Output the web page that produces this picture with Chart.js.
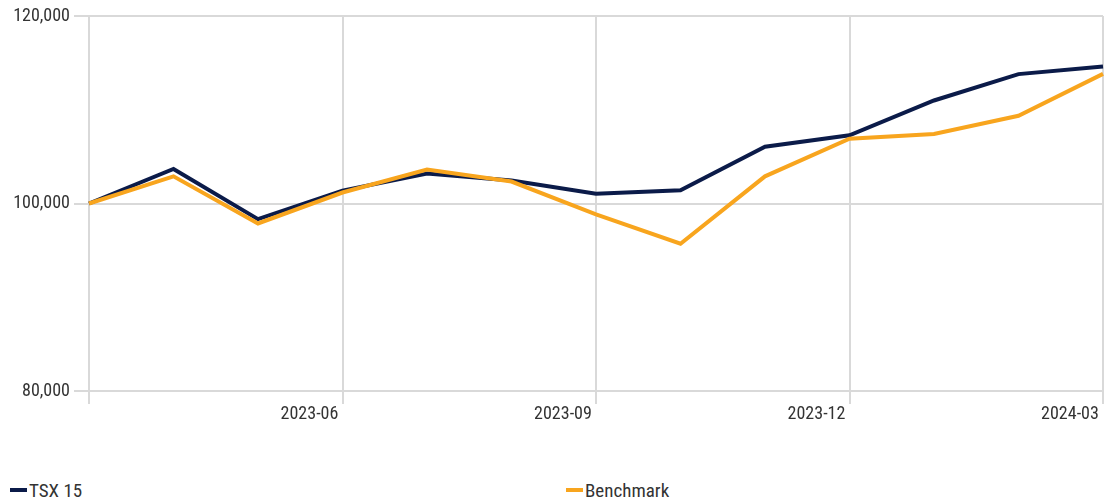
<!DOCTYPE html>
<html>
<head>
<meta charset="utf-8">
<script src="https://cdn.jsdelivr.net/npm/chart.js@4/dist/chart.umd.min.js"></script>
<style>
  html, body { margin: 0; padding: 0; background: #fff; }
  #wrap { position: relative; width: 1105px; height: 503px; }
  #box { position: absolute; left: 0; top: 0; width: 1105px; height: 440px; }
  #legend { position: absolute; left: 0; top: 478px; width: 1105px; height: 24px;
    font-family: 'Roboto Condensed', 'Liberation Sans Narrow', 'Arial Narrow', 'Roboto', sans-serif; font-size: 19px; color: #333; }
  .item { position: absolute; top: 0; display: flex; align-items: center; height: 24px; }
  .swatch { width: 17px; height: 4px; margin-right: 2px; }
</style>
</head>
<body>
<div id="wrap">
  <div id="box"><canvas id="c"></canvas></div>
  <div id="legend"></div>
</div>
<script>
const months = ['2023-03','2023-04','2023-05','2023-06','2023-07','2023-08','2023-09','2023-10','2023-11','2023-12','2024-01','2024-02','2024-03'];
const tsx15 = [100000, 103690, 98330, 101380, 103190, 102450, 101030, 101410, 106060, 107270, 110990, 113800, 114610];
const benchmark = [100000, 102900, 97870, 101170, 103620, 102340, 98830, 95710, 102900, 106910, 107410, 109360, 113830];
const seriesNames = ['TSX 15', 'Benchmark'];
const seriesColors = ['#0b1b49', '#f8a51e'];
const yTicks = [80000, 100000, 120000];

const FONT = "'Roboto Condensed', 'Liberation Sans Narrow', 'Arial Narrow', 'Roboto', sans-serif";
const GRID = '#d9d9d9';

const chart = new Chart(document.getElementById('c'), {
  type: 'line',
  data: {
    labels: months,
    datasets: [
      { label: seriesNames[0], data: tsx15, borderColor: seriesColors[0], backgroundColor: seriesColors[0], borderWidth: 4, pointRadius: 0, tension: 0 },
      { label: seriesNames[1], data: benchmark, borderColor: seriesColors[1], backgroundColor: seriesColors[1], borderWidth: 4, pointRadius: 0, tension: 0 }
    ].reverse()
  },
  options: {
    responsive: true,
    maintainAspectRatio: false,
    animation: false,
    layout: { padding: { top: 16, right: 2, left: 0, bottom: 0 } },
    plugins: { legend: { display: false }, tooltip: { enabled: false } },
    scales: {
      x: {
        type: 'category',
        grid: {
          color: (ctx) => (ctx.index % 3 === 0 ? GRID : 'rgba(0,0,0,0)'),
          lineWidth: 2,
          tickLength: 13,
          drawOnChartArea: true
        },
        border: { display: true, color: GRID, width: 2 },
        ticks: {
          autoSkip: false,
          maxRotation: 0,
          align: 'end',
          padding: 0,
          color: '#333',
          font: { family: FONT, size: 18 },
          callback: (v, i) => (i % 3 === 0 && i > 0 ? months[i] + ' ' : '')
        },
        afterFit: (s) => { s.height = 49; }
      },
      y: {
        min: yTicks[0],
        max: yTicks[yTicks.length - 1],
        afterBuildTicks: (s) => { s.ticks = yTicks.map(v => ({ value: v })); },
        grid: { color: GRID, lineWidth: 2, tickLength: 15 },
        border: { display: true, color: GRID, width: 2 },
        ticks: {
          padding: 4,
          color: '#333',
          font: { family: FONT, size: 18 },
          callback: (v) => v.toLocaleString('en-US')
        },
        afterFit: (s) => { s.width = 89; }
      }
    }
  }
});

// HTML legend built from the series arrays
const legend = document.getElementById('legend');
const positions = [10, 566];
seriesNames.forEach((name, i) => {
  const item = document.createElement('div');
  item.className = 'item';
  item.style.left = positions[i] + 'px';
  const sw = document.createElement('span');
  sw.className = 'swatch';
  sw.style.background = seriesColors[i];
  const t = document.createElement('span');
  t.textContent = name;
  item.appendChild(sw);
  item.appendChild(t);
  legend.appendChild(item);
});
</script>
</body>
</html>
